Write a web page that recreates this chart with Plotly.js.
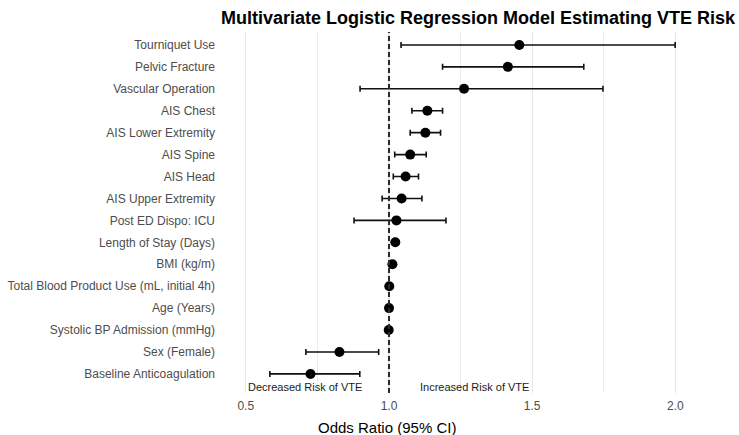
<!DOCTYPE html>
<html>
<head>
<meta charset="utf-8">
<script src="https://cdn.plot.ly/plotly-3.0.1.min.js"></script>
<style>html,body{margin:0;padding:0;background:#fff;}#chart{width:739px;height:435px;}</style>
</head>
<body>
<div id="chart"></div>
<script>
// Variables listed from bottom row to top row
const variables = [
  "Baseline Anticoagulation",
  "Sex (Female)",
  "Systolic BP Admission (mmHg)",
  "Age (Years)",
  "Total Blood Product Use (mL, initial 4h)",
  "BMI (kg/m)",
  "Length of Stay (Days)",
  "Post ED Dispo: ICU",
  "AIS Upper Extremity",
  "AIS Head",
  "AIS Spine",
  "AIS Lower Extremity",
  "AIS Chest",
  "Vascular Operation",
  "Pelvic Fracture",
  "Tourniquet Use"
];
const oddsRatio = [0.726, 0.827, 0.999, 1.000, 1.001, 1.012, 1.022, 1.026, 1.044, 1.058, 1.074, 1.127, 1.134, 1.262, 1.415, 1.455];
const ciLower   = [0.584, 0.710, 0.998, 0.999, 1.000, 1.006, 1.015, 0.878, 0.976, 1.015, 1.020, 1.074, 1.080, 0.899, 1.187, 1.042];
const ciUpper   = [0.898, 0.964, 1.000, 1.001, 1.002, 1.018, 1.029, 1.199, 1.115, 1.103, 1.130, 1.180, 1.187, 1.747, 1.680, 1.999];
const xTicks = [0.5, 1.0, 1.5, 2.0];
const xTickLabels = ["0.5", "1.0", "1.5", "2.0"];
const nullValue = 1;

const errPlus = oddsRatio.map((v, i) => ciUpper[i] - v);
const errMinus = oddsRatio.map((v, i) => v - ciLower[i]);

const refLine = {
  type: "scatter",
  mode: "lines",
  x: [nullValue, nullValue],
  y: [0, 1],
  yaxis: "y2",
  line: {color: "#2b2b2b", width: 2, dash: "5px,3px"},
  hoverinfo: "skip",
  showlegend: false
};

const trace = {
  type: "scatter",
  mode: "markers",
  x: oddsRatio,
  y: variables,
  marker: {color: "#000000", size: 10},
  error_x: {
    type: "data",
    symmetric: false,
    array: errPlus,
    arrayminus: errMinus,
    color: "#111111",
    thickness: 1.6,
    width: 3
  },
  hoverinfo: "x+y",
  showlegend: false
};

const layout = {
  width: 739,
  height: 435,
  margin: {l: 220, r: 4, t: 32, b: 42},
  paper_bgcolor: "#ffffff",
  plot_bgcolor: "#ffffff",
  font: {family: "Liberation Sans, Arial, sans-serif", color: "#4d4d4d"},
  title: {
    text: "<b>Multivariate Logistic Regression Model Estimating VTE Risk</b>",
    font: {size: 18, color: "#000000", family: "Liberation Sans, Arial, sans-serif"},
    xref: "container", x: 221 / 739, xanchor: "left",
    yref: "container", y: 1 - 18 / 435, yanchor: "middle"
  },
  xaxis: {
    range: [0.41, 2.208],
    tickvals: xTicks,
    ticktext: xTickLabels,
    showgrid: true,
    gridcolor: "#e6e6e6",
    gridwidth: 1.2,
    minor: {dtick: 0.25, tick0: 0.25, showgrid: true, gridcolor: "#ececec", gridwidth: 1},
    zeroline: false,
    showline: false,
    ticks: "",
    ticklabelstandoff: 4,
    tickfont: {size: 12, color: "#4d4d4d"},
    fixedrange: true
  },
  yaxis: {
    type: "category",
    categoryorder: "array",
    categoryarray: variables,
    range: [-0.87, 15.59],
    showgrid: false,
    zeroline: false,
    showline: false,
    ticks: "",
    ticklabelstandoff: 4,
    tickfont: {size: 12, color: "#4d4d4d"},
    fixedrange: true
  },
  yaxis2: {
    overlaying: "y",
    range: [0, 1],
    visible: false,
    showgrid: false,
    zeroline: false,
    fixedrange: true
  },
  annotations: [
    {text: "Decreased Risk of VTE", xref: "x", yref: "paper", x: 0.5, y: 0.017,
     xanchor: "left", yanchor: "middle", showarrow: false,
     font: {size: 11, color: "#1a1a1a"}},
    {text: "Increased Risk of VTE", xref: "x", yref: "paper", x: 1.1, y: 0.017,
     xanchor: "left", yanchor: "middle", showarrow: false,
     font: {size: 11, color: "#1a1a1a"}},
    {text: "Odds Ratio (95% CI)", xref: "paper", yref: "paper",
     x: (387 - 220) / 515, y: -0.095, xanchor: "center", yanchor: "middle",
     showarrow: false, font: {size: 15, color: "#000000"}}
  ]
};

Plotly.newPlot("chart", [refLine, trace], layout, {displayModeBar: false, staticPlot: true});
</script>
</body>
</html>
